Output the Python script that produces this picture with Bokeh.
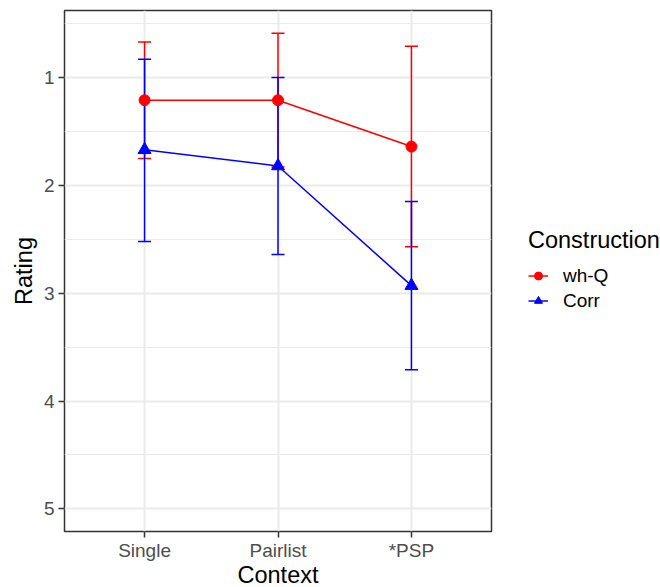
from bokeh.plotting import figure
from bokeh.models import (ColumnDataSource, Whisker, TeeHead, FactorRange, Range1d,
                          FixedTicker, Legend, LegendItem)
from bokeh.embed import file_html
from bokeh.resources import INLINE

contexts = ["Single", "Pairlist", "*PSP"]
whq_mean = [1.21, 1.21, 1.64]
whq_lower = [0.67, 0.59, 0.71]
whq_upper = [1.75, 1.83, 2.57]
corr_mean = [1.67, 1.82, 2.93]
corr_lower = [0.83, 1.00, 2.15]
corr_upper = [2.52, 2.64, 3.71]
y_ticks = [1, 2, 3, 4, 5]
y_minor = [0.5, 1.5, 2.5, 3.5, 4.5]

FONT = "Liberation Sans"
RED = "#FF0000"
BLUE = "#0000FF"

p = figure(width=660, height=587, frame_width=427, frame_height=521,
           output_backend="svg", toolbar_location=None,
           x_range=FactorRange(factors=contexts, range_padding=0.1, range_padding_units="absolute"),
           y_range=Range1d(start=5.21, end=0.378),
           min_border_left=64, min_border_top=10, min_border_right=169, min_border_bottom=56)

p.background_fill_color = "white"
p.border_fill_color = "white"
p.outline_line_color = "#333333"
p.outline_line_width = 1.5

ticker = FixedTicker(ticks=y_ticks, minor_ticks=y_minor)
p.yaxis.ticker = ticker
p.ygrid.ticker = ticker
p.ygrid.grid_line_color = "#EBEBEB"
p.ygrid.grid_line_width = 2
p.ygrid.minor_grid_line_color = "#EBEBEB"
p.ygrid.minor_grid_line_width = 1.2
p.xgrid.grid_line_color = "#EBEBEB"
p.xgrid.grid_line_width = 2

for ax in (p.xaxis[0], p.yaxis[0]):
    ax.axis_line_color = None
    ax.major_tick_line_color = "#333333"
    ax.major_tick_line_width = 1.5
    ax.major_tick_out = 6
    ax.major_tick_in = 0
    ax.minor_tick_line_color = None
    ax.major_label_text_font = FONT
    ax.major_label_text_font_size = "19px"
    ax.major_label_text_color = "#4D4D4D"
    ax.major_label_text_line_height = 1.0
    ax.axis_label_text_font = FONT
    ax.axis_label_text_font_size = "23.5px"
    ax.axis_label_text_color = "black"
    ax.axis_label_text_font_style = "normal"
    ax.axis_label_text_line_height = 1.0

p.xaxis.axis_label = "Context"
p.yaxis.axis_label = "Rating"
p.xaxis.major_label_standoff = 2
p.xaxis.axis_label_standoff = -2
p.yaxis.major_label_standoff = 4
p.yaxis.axis_label_standoff = 4

src_w = ColumnDataSource(dict(x=contexts, y=whq_mean, lo=whq_lower, hi=whq_upper))
src_c = ColumnDataSource(dict(x=contexts, y=corr_mean, lo=corr_lower, hi=corr_upper))

for src, col in ((src_w, RED), (src_c, BLUE)):
    w = Whisker(source=src, base="x", lower="lo", upper="hi", dimension="height",
                line_color=col, line_width=1.5,
                upper_head=TeeHead(size=13, line_color=col, line_width=1.5),
                lower_head=TeeHead(size=13, line_color=col, line_width=1.5))
    p.add_layout(w)

lw = p.line("x", "y", source=src_w, line_color=RED, line_width=1.5)
lc = p.line("x", "y", source=src_c, line_color=BLUE, line_width=1.5)
pw = p.scatter("x", "y", source=src_w, marker="circle", size=11, fill_color=RED, line_color=RED)
pc = p.scatter("x", "y", source=src_c, marker="triangle", size=13, fill_color=BLUE, line_color=BLUE)

legend = Legend(items=[LegendItem(label="wh-Q", renderers=[lw, pw]),
                       LegendItem(label="Corr", renderers=[lc, pc])],
                location=(37, 218), title="Construction")
legend.title_text_font = FONT
legend.title_text_font_size = "23.5px"
legend.title_text_font_style = "normal"
legend.title_text_color = "black"
legend.title_standoff = 9
legend.label_text_font = FONT
legend.label_text_font_size = "19px"
legend.label_text_color = "black"
legend.label_text_line_height = 1.0
legend.glyph_width = 20
legend.glyph_height = 25
legend.label_height = 25
legend.label_standoff = 15
legend.spacing = 0
legend.padding = 0
legend.margin = 0
legend.border_line_color = None
legend.background_fill_alpha = 0
p.add_layout(legend, "right")

open("out.html", "w").write(file_html(p, INLINE))
